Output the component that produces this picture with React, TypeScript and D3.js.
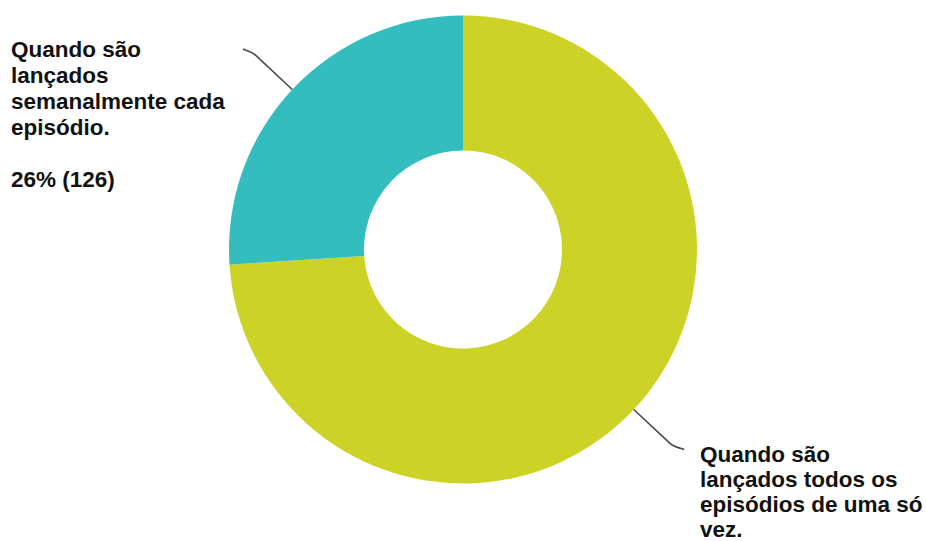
import React from "react";
import * as d3 from "d3";

const categories = [
  "Quando são lançados todos os episódios de uma só vez.",
  "Quando são lançados semanalmente cada episódio.",
];
const values = [358, 126];
const colors = ["#CDD326", "#34BDBF"];
const labelLinesTopLeft = ["Quando são", "lançados", "semanalmente cada", "episódio.", "", "26% (126)"];
const labelLinesBottomRight = ["Quando são", "lançados todos os", "episódios de uma só", "vez."];

const W = 926;
const H = 541;
const cx = 463;
const cy = 249.5;
const outerR = 234;
const innerR = 99;

export default function App() {
  const pie = d3.pie<number>().sort(null).value((d) => d);
  const arcs = pie(values);
  const arcGen = d3.arc<d3.PieArcDatum<number>>().innerRadius(innerR).outerRadius(outerR);

  const leader = (a: d3.PieArcDatum<number>, ext: number, hookDx: number, hookDy: number) => {
    const mid = (a.startAngle + a.endAngle) / 2;
    const sx = Math.sin(mid), sy = -Math.cos(mid);
    const p0: [number, number] = [cx + outerR * sx, cy + outerR * sy];
    const p1: [number, number] = [cx + (outerR + ext) * sx, cy + (outerR + ext) * sy];
    const p2: [number, number] = [p1[0] + hookDx, p1[1] + hookDy];
    const path = d3.path();
    path.moveTo(p0[0], p0[1]);
    path.lineTo(p1[0] - sx * 4, p1[1] - sy * 4);
    path.quadraticCurveTo(p1[0], p1[1], p2[0], p2[1]);
    return path.toString();
  };

  const font = "'Liberation Sans', Arial, Helvetica, sans-serif";

  return (
    <svg width={W} height={H} style={{ position: "absolute", left: 0, top: 0, background: "#fff" }}>
      <g transform={`translate(${cx},${cy})`}>
        {arcs.map((a, i) => (
          <path key={categories[i]} d={arcGen(a) || ""} fill={colors[i]} />
        ))}
      </g>
      <path d={leader(arcs[1], 54, -10, -3.5)} fill="none" stroke="#4a4a4a" strokeWidth={1.6} />
      <path d={leader(arcs[0], 54, 11, 3)} fill="none" stroke="#4a4a4a" strokeWidth={1.6} />
      <text fontFamily={font} fontWeight="bold" fontSize={22.5} fill="#111">
        {labelLinesTopLeft.map((t, i) => (
          <tspan key={"tl" + i} x={11} y={57 + i * 26}>{t}</tspan>
        ))}
      </text>
      <text fontFamily={font} fontWeight="bold" fontSize={22.5} fill="#111">
        {labelLinesBottomRight.map((t, i) => (
          <tspan key={"br" + i} x={700} y={462 + i * 25}>{t}</tspan>
        ))}
      </text>
    </svg>
  );
}
